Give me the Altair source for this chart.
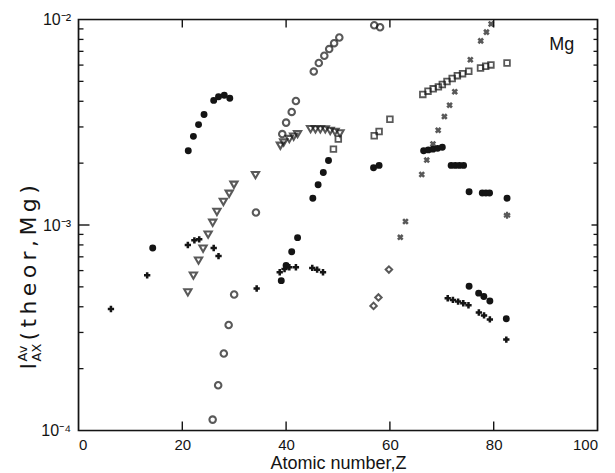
import altair as alt
import pandas as pd

# ---------------- data (Z, intensity) ----------------
# filled circles
fc_z = [14.3, 21.15, 22.14, 23.13, 24.19, 26.05, 26.98, 28.09, 29.15,
        39.07, 40.0, 41.08, 42.21, 45.15, 46.17, 47.17, 48.17,
        56.85, 57.92,
        66.5, 67.4, 68.3, 69.2, 70.1,
        71.8, 72.6, 73.4, 74.2,
        75.26, 77.8, 78.5, 79.2, 82.57,
        75.26, 77.1, 78.1, 79.26, 82.43]
fc_v = [7.73e-4, 2.30e-3, 2.70e-3, 3.08e-3, 3.45e-3, 4.04e-3, 4.21e-3, 4.28e-3, 4.14e-3,
        5.36e-4, 6.35e-4, 7.41e-4, 8.68e-4, 1.35e-3, 1.57e-3, 1.80e-3, 2.06e-3,
        1.90e-3, 1.95e-3,
        2.30e-3, 2.32e-3, 2.34e-3, 2.36e-3, 2.39e-3,
        1.95e-3, 1.95e-3, 1.95e-3, 1.95e-3,
        1.45e-3, 1.43e-3, 1.43e-3, 1.43e-3, 1.35e-3,
        5.03e-4, 4.66e-4, 4.49e-4, 4.27e-4, 3.50e-4]
# plus signs
pl_z = [6.25, 13.23, 21.07, 22.33, 23.26, 26.05, 26.98, 34.33,
        38.77, 39.7, 40.62, 41.89, 45.04, 45.98, 47.11,
        71.14, 72.14, 73.14, 74.14, 75.14, 77.14, 78.14, 79.26, 82.43]
pl_v = [3.90e-4, 5.69e-4, 7.99e-4, 8.42e-4, 8.52e-4, 7.73e-4, 7.06e-4, 4.91e-4,
        5.89e-4, 6.11e-4, 6.23e-4, 6.23e-4, 6.18e-4, 6.06e-4, 5.89e-4,
        4.40e-4, 4.32e-4, 4.24e-4, 4.16e-4, 4.07e-4, 3.75e-4, 3.63e-4, 3.47e-4, 2.77e-4]
# x marks
xm_z = [62.0, 63.0, 66.14, 67.1, 68.3, 69.3, 70.5, 71.5, 72.5, 75.5, 77.5, 78.6, 79.5]
xm_v = [8.71e-4, 1.04e-3, 1.76e-3, 2.07e-3, 2.48e-3, 2.89e-3, 3.37e-3, 3.83e-3,
        4.45e-3, 6.37e-3, 7.87e-3, 8.68e-3, 9.51e-3]
# open circles
oc_z = [25.85, 26.91, 28.0, 28.93, 29.99, 34.19, 39.26, 40.0, 41.08, 41.89,
        45.33, 46.3, 47.36, 48.3, 49.25, 50.25, 56.98, 58.11]
oc_v = [1.13e-4, 1.66e-4, 2.37e-4, 3.26e-4, 4.59e-4, 1.15e-3, 2.77e-3, 3.15e-3, 3.55e-3, 4.01e-3,
        5.58e-3, 6.14e-3, 6.66e-3, 7.18e-3, 7.67e-3, 8.17e-3, 9.38e-3, 9.17e-3]
# open triangles (pointing down)
td_z = [21.07, 22.14, 23.13, 24.0, 24.98, 25.86, 26.67, 27.91, 29.03, 29.95, 34.1,
        38.9, 39.53, 40.62, 41.45, 42.21,
        44.72, 45.66, 46.6, 47.55, 48.49, 49.43, 50.38]
td_v = [4.70e-4, 5.67e-4, 6.71e-4, 7.67e-4, 8.98e-4, 1.025e-3, 1.158e-3, 1.295e-3, 1.42e-3, 1.57e-3, 1.75e-3,
        2.43e-3, 2.52e-3, 2.62e-3, 2.69e-3, 2.77e-3,
        2.93e-3, 2.92e-3, 2.92e-3, 2.92e-3, 2.87e-3, 2.84e-3, 2.79e-3]
# open squares
sq_z = [49.12, 50.06, 56.98, 57.92, 60.0,
        66.34, 67.34, 68.34, 69.34, 70.1, 71.0, 72.0, 73.0, 74.0, 75.2,
        77.46, 78.46, 79.46, 82.57]
sq_v = [2.34e-3, 2.62e-3, 2.72e-3, 2.85e-3, 3.27e-3,
        4.32e-3, 4.48e-3, 4.60e-3, 4.70e-3, 4.83e-3, 4.99e-3, 5.16e-3, 5.33e-3, 5.45e-3, 5.60e-3,
        5.81e-3, 5.92e-3, 6.01e-3, 6.14e-3]
# open diamonds
dm_z = [56.85, 57.79, 59.81]
dm_v = [4.04e-4, 4.44e-4, 6.07e-4]
# asterisk
st_z = [82.57]
st_v = [1.115e-3]

# axis ticks
x_ticks = [20, 40, 60, 80]
x_labels = [0, 20, 40, 60, 80, 100]
y_major = [1e-4, 1e-3, 1e-2]
y_minor = [2e-4, 3e-4, 4e-4, 5e-4, 6e-4, 7e-4, 8e-4, 9e-4,
           2e-3, 3e-3, 4e-3, 5e-3, 6e-3, 7e-3, 8e-3, 9e-3]

W, H = 519, 411
INK = "#141414"
FONT = "Liberation Sans"
TFONT = "DejaVu Sans"
TS = "\u2009"  # thin space used to open up the rotated title

xs = alt.Scale(domain=[0, 100], nice=False, zero=False)
ys = alt.Scale(type="log", domain=[1e-4, 1e-2], nice=False)

X_AXIS = alt.Axis(
    values=x_labels, format="d", ticks=False, tickSize=0, domain=False, grid=False,
    labelFontSize=15, labelPadding=7, labelColor=INK, labelFont=FONT,
    title="Atomic number,Z", titleFontSize=18, titleFontWeight="normal",
    titleColor=INK, titleFont=FONT, titleBaseline="alphabetic", titleY=38)
Y_AXIS = alt.Axis(
    values=y_major, ticks=False, tickSize=0, domain=False, grid=False,
    labelExpr="datum.value < 5e-4 ? '10⁻⁴' : (datum.value < 5e-3 ? '10⁻³' : '10⁻²')",
    labelFontSize=16, labelPadding=8, labelColor=INK, labelFont=FONT,
    labelBaseline="middle", title=None)

XE = alt.X("z:Q", scale=xs, axis=X_AXIS, title="Atomic number,Z")
YE = alt.Y("v:Q", scale=ys, axis=Y_AXIS, title=None)


def df(z, v):
    return pd.DataFrame({"z": z, "v": v})


def pts(z, v, **mk):
    return alt.Chart(df(z, v)).mark_point(color=INK, **mk).encode(x=XE, y=YE)


# frame of the plot
frame = alt.Chart(pd.DataFrame({"a": [0]})).mark_rect(
    fill=None, stroke=INK, strokeWidth=1.7).encode(
    x=alt.value(0), x2=alt.value(W), y=alt.value(0), y2=alt.value(H))

ymin_df = pd.DataFrame({"v": y_minor})
ymaj_df = pd.DataFrame({"v": [1e-3]})
xt_df = pd.DataFrame({"z": x_ticks})

ticks = [
    alt.Chart(ymin_df).mark_rule(color=INK, strokeWidth=1.3).encode(
        y=YE, x=alt.value(0), x2=alt.value(5)),
    alt.Chart(ymin_df).mark_rule(color=INK, strokeWidth=1.3).encode(
        y=YE, x=alt.value(W - 4), x2=alt.value(W)),
    alt.Chart(ymaj_df).mark_rule(color=INK, strokeWidth=1.4).encode(
        y=YE, x=alt.value(0), x2=alt.value(11)),
    alt.Chart(ymaj_df).mark_rule(color=INK, strokeWidth=1.4).encode(
        y=YE, x=alt.value(W - 6), x2=alt.value(W)),
    alt.Chart(xt_df).mark_rule(color=INK, strokeWidth=1.4).encode(
        x=XE, y=alt.value(H), y2=alt.value(H - 9)),
    alt.Chart(xt_df).mark_rule(color=INK, strokeWidth=1.4).encode(
        x=XE, y=alt.value(0), y2=alt.value(8)),
]

xmark_path = "M-1,-1L1,1M-1,1L1,-1"
star_path = "M0,-1L0,1M-0.87,-0.5L0.87,0.5M-0.87,0.5L0.87,-0.5"

series = [
    pts(oc_z, oc_v, shape="circle", filled=False, size=42, strokeWidth=2.1),
    pts(td_z, td_v, shape="triangle-down", filled=False, size=52, strokeWidth=2.1),
    pts(sq_z, sq_v, shape="square", filled=False, size=32, strokeWidth=1.8),
    pts(dm_z, dm_v, shape="diamond", filled=False, size=42, strokeWidth=2.0),
    pts(fc_z, fc_v, shape="circle", filled=True, size=48, opacity=1),
    pts(pl_z, pl_v, shape="cross", filled=True, size=40, opacity=1),
    pts(xm_z, xm_v, shape=xmark_path, filled=False, size=22, strokeWidth=2.6),
    pts(st_z, st_v, shape=star_path, filled=False, size=50, strokeWidth=2.2),
]

# panel label
mg = alt.Chart(pd.DataFrame({"z": [93.1], "v": [7.5e-3], "t": ["Mg"]})).mark_text(
    font=FONT, fontSize=18, color=INK, align="center", baseline="middle").encode(
    x=XE, y=YE, text="t:N")


# y-axis title  I^{Av}_{AX}(theor,Mg), rotated
def ttl(text, x, y, size):
    return alt.Chart(pd.DataFrame({"t": [text]})).mark_text(
        font=TFONT, fontSize=size, color=INK, angle=270, align="left",
        baseline="alphabetic").encode(x=alt.value(x), y=alt.value(y), text="t:N")


ytitle = [
    ttl("I", -43, 350, 22),
    ttl("Av", -52, 342, 13),
    ttl("AX", -38, 342, 13),
    ttl(TS.join("(theor,Mg)"), -43, 321, 22),
]

chart = alt.layer(frame, *ticks, *series, mg, *ytitle).properties(
    width=W, height=H,
    autosize=alt.AutoSizeParams(type="none"),
    padding={"left": 70.5, "top": 11.5, "right": 8, "bottom": 50},
).configure_view(stroke=None).configure(font=FONT, background="white")

chart.save("out.html", embed_options={"renderer": "svg", "actions": False})
